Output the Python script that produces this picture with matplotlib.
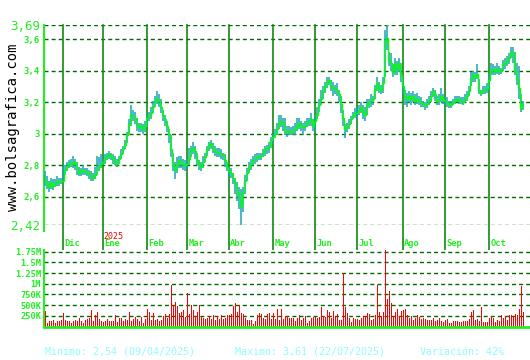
import matplotlib
matplotlib.use("Agg")
import matplotlib.pyplot as plt
import numpy as np

plt.rcParams['lines.scale_dashes'] = False

# ---------------- data ----------------
months = ["Dic", "Ene", "Feb", "Mar", "Abr", "May", "Jun", "Jul", "Ago", "Sep", "Oct"]

nov_close = [2.71, 2.68, 2.66, 2.69, 2.67, 2.68, 2.70, 2.69, 2.70]
nov_high = [2.76, 2.73, 2.70, 2.72, 2.71, 2.71, 2.73, 2.72, 2.72]
nov_low = [2.67, 2.65, 2.63, 2.65, 2.64, 2.66, 2.67, 2.67, 2.68]
nov_vol = [360, 80, 130, 120, 160, 80, 120, 130, 150]

dic_close = [2.70, 2.77, 2.79, 2.81, 2.82, 2.81, 2.82, 2.78, 2.75, 2.76, 2.77, 2.76, 2.75, 2.75, 2.73, 2.72, 2.74, 2.77, 2.79, 2.81]
dic_high = [2.79, 2.80, 2.82, 2.83, 2.84, 2.86, 2.84, 2.82, 2.79, 2.78, 2.80, 2.78, 2.78, 2.77, 2.76, 2.75, 2.79, 2.86, 2.85, 2.87]
dic_low = [2.69, 2.74, 2.76, 2.78, 2.79, 2.78, 2.77, 2.74, 2.73, 2.73, 2.74, 2.74, 2.73, 2.71, 2.70, 2.70, 2.71, 2.74, 2.76, 2.78]
dic_vol = [320, 160, 120, 120, 90, 140, 160, 120, 210, 120, 80, 150, 170, 200, 380, 130, 270, 330, 180, 120]

ene_close = [2.82, 2.84, 2.86, 2.87, 2.86, 2.84, 2.82, 2.81, 2.84, 2.87, 2.90, 2.93, 2.99, 3.06, 3.12, 3.12, 3.10, 3.06, 3.04, 3.05, 3.03, 3.05]
ene_high = [2.84, 2.87, 2.88, 2.89, 2.88, 2.87, 2.86, 2.84, 2.86, 2.90, 2.92, 2.96, 3.01, 3.09, 3.18, 3.15, 3.14, 3.10, 3.07, 3.07, 3.06, 3.08]
ene_low = [2.80, 2.81, 2.83, 2.84, 2.83, 2.81, 2.80, 2.79, 2.81, 2.84, 2.87, 2.90, 2.94, 3.00, 3.05, 3.08, 3.06, 3.02, 3.01, 3.01, 3.00, 3.01]
ene_vol = [110, 120, 170, 120, 120, 120, 280, 100, 190, 190, 140, 180, 160, 340, 140, 170, 230, 170, 120, 220, 90, 180]

feb_close = [3.10, 3.11, 3.13, 3.17, 3.21, 3.22, 3.21, 3.17, 3.12, 3.09, 3.05, 3.00, 2.90, 2.80, 2.77, 2.80, 2.83, 2.82, 2.81, 2.80]
feb_high = [3.12, 3.14, 3.17, 3.21, 3.24, 3.27, 3.25, 3.22, 3.15, 3.12, 3.08, 3.03, 2.99, 2.88, 2.82, 2.85, 2.86, 2.86, 2.84, 2.83]
feb_low = [3.05, 3.08, 3.09, 3.13, 3.17, 3.19, 3.17, 3.13, 3.08, 3.05, 3.01, 2.94, 2.85, 2.76, 2.71, 2.75, 2.78, 2.78, 2.77, 2.76]
feb_vol = [420, 330, 150, 310, 160, 180, 130, 160, 250, 300, 200, 300, 960, 500, 580, 480, 310, 350, 390, 220]

mar_close = [2.81, 2.84, 2.90, 2.91, 2.89, 2.83, 2.80, 2.79, 2.82, 2.85, 2.90, 2.93, 2.94, 2.91, 2.89, 2.88, 2.88, 2.87, 2.87, 2.83, 2.79]
mar_high = [2.84, 2.91, 2.92, 2.95, 2.92, 2.88, 2.83, 2.82, 2.86, 2.88, 2.92, 2.95, 2.96, 2.94, 2.92, 2.91, 2.91, 2.90, 2.88, 2.87, 2.82]
mar_low = [2.78, 2.80, 2.85, 2.87, 2.84, 2.80, 2.77, 2.76, 2.78, 2.82, 2.86, 2.89, 2.90, 2.88, 2.86, 2.85, 2.85, 2.84, 2.83, 2.79, 2.76]
mar_vol = [780, 300, 500, 380, 240, 350, 500, 230, 200, 180, 200, 250, 180, 280, 150, 250, 180, 260, 170, 190, 260]

abr_close = [2.76, 2.75, 2.72, 2.69, 2.63, 2.60, 2.54, 2.63, 2.70, 2.75, 2.79, 2.81, 2.83, 2.84, 2.85, 2.86, 2.86, 2.88, 2.90, 2.90, 2.92, 2.96]
abr_high = [2.79, 2.78, 2.75, 2.72, 2.69, 2.66, 2.65, 2.66, 2.74, 2.78, 2.82, 2.84, 2.86, 2.87, 2.88, 2.88, 2.88, 2.90, 2.92, 2.93, 2.95, 2.98]
abr_low = [2.73, 2.72, 2.68, 2.62, 2.57, 2.52, 2.42, 2.50, 2.62, 2.70, 2.75, 2.77, 2.80, 2.81, 2.82, 2.83, 2.83, 2.85, 2.86, 2.87, 2.88, 2.91]
abr_vol = [270, 300, 470, 550, 330, 500, 310, 300, 190, 150, 160, 160, 50, 120, 280, 310, 300, 210, 170, 300, 310, 170]

may_close = [2.98, 3.00, 3.03, 3.07, 3.08, 3.07, 3.02, 3.01, 3.02, 3.01, 3.02, 3.03, 3.05, 3.07, 3.05, 3.04, 3.05, 3.07, 3.08, 3.09, 3.05]
may_high = [3.00, 3.03, 3.07, 3.12, 3.12, 3.10, 3.10, 3.05, 3.05, 3.04, 3.05, 3.07, 3.10, 3.10, 3.08, 3.07, 3.08, 3.10, 3.10, 3.13, 3.09]
may_low = [2.94, 2.97, 2.99, 3.03, 3.04, 3.02, 2.99, 2.98, 2.99, 2.99, 2.99, 2.99, 3.02, 3.03, 3.02, 2.99, 3.02, 3.04, 3.05, 3.05, 3.02]
may_vol = [310, 170, 400, 160, 400, 180, 250, 250, 190, 190, 210, 130, 210, 260, 160, 200, 250, 80, 120, 210, 220]

jun_close = [3.08, 3.12, 3.18, 3.22, 3.27, 3.30, 3.33, 3.34, 3.30, 3.29, 3.29, 3.28, 3.25, 3.19, 3.10, 3.03, 3.04, 3.06, 3.09, 3.12, 3.13]
jun_high = [3.12, 3.17, 3.22, 3.28, 3.30, 3.33, 3.36, 3.36, 3.34, 3.33, 3.31, 3.32, 3.28, 3.24, 3.15, 3.06, 3.07, 3.09, 3.11, 3.14, 3.16]
jun_low = [3.02, 3.09, 3.14, 3.18, 3.22, 3.26, 3.29, 3.31, 3.27, 3.24, 3.25, 3.24, 3.20, 3.13, 3.05, 2.97, 3.01, 3.03, 3.06, 3.09, 3.10]
jun_vol = [220, 200, 230, 450, 250, 220, 380, 350, 200, 370, 250, 300, 150, 160, 1250, 450, 310, 200, 110, 190, 180]

jul_close = [3.13, 3.15, 3.17, 3.14, 3.12, 3.18, 3.20, 3.21, 3.22, 3.28, 3.32, 3.29, 3.28, 3.32, 3.59, 3.61, 3.47, 3.45, 3.39, 3.44, 3.41, 3.45, 3.37]
jul_high = [3.16, 3.18, 3.20, 3.18, 3.17, 3.22, 3.22, 3.25, 3.24, 3.31, 3.36, 3.33, 3.31, 3.36, 3.66, 3.69, 3.52, 3.51, 3.44, 3.48, 3.46, 3.48, 3.45]
jul_low = [3.10, 3.12, 3.13, 3.09, 3.08, 3.12, 3.16, 3.17, 3.18, 3.22, 3.27, 3.26, 3.25, 3.26, 3.36, 3.53, 3.43, 3.40, 3.36, 3.37, 3.37, 3.39, 3.33]
jul_vol = [170, 150, 200, 240, 240, 320, 300, 160, 170, 280, 960, 330, 250, 330, 1780, 640, 840, 560, 250, 330, 400, 250, 360]

ago_close = [3.30, 3.24, 3.22, 3.24, 3.22, 3.24, 3.21, 3.22, 3.21, 3.20, 3.19, 3.18, 3.19, 3.21, 3.24, 3.27, 3.25, 3.21, 3.21, 3.24, 3.22]
ago_high = [3.35, 3.28, 3.26, 3.27, 3.26, 3.27, 3.25, 3.26, 3.24, 3.23, 3.21, 3.20, 3.22, 3.24, 3.27, 3.29, 3.28, 3.24, 3.25, 3.29, 3.25]
ago_low = [3.25, 3.18, 3.17, 3.20, 3.18, 3.20, 3.18, 3.19, 3.18, 3.17, 3.17, 3.15, 3.16, 3.18, 3.20, 3.23, 3.21, 3.18, 3.18, 3.20, 3.19]
ago_vol = [380, 400, 270, 190, 240, 150, 200, 280, 220, 170, 190, 170, 150, 150, 160, 200, 120, 160, 200, 140, 100]

sep_close = [3.21, 3.20, 3.19, 3.18, 3.20, 3.21, 3.22, 3.21, 3.21, 3.20, 3.22, 3.24, 3.27, 3.35, 3.37, 3.36, 3.38, 3.28, 3.26, 3.27, 3.28, 3.29]
sep_high = [3.23, 3.23, 3.21, 3.21, 3.22, 3.24, 3.24, 3.24, 3.23, 3.23, 3.25, 3.27, 3.30, 3.39, 3.40, 3.39, 3.44, 3.35, 3.28, 3.30, 3.30, 3.32]
sep_low = [3.18, 3.17, 3.16, 3.16, 3.18, 3.19, 3.20, 3.19, 3.19, 3.18, 3.20, 3.21, 3.24, 3.30, 3.33, 3.33, 3.35, 3.25, 3.24, 3.25, 3.25, 3.26]
sep_vol = [150, 180, 80, 80, 140, 120, 130, 100, 100, 140, 120, 140, 180, 330, 380, 150, 180, 140, 450, 100, 100, 110]

oct_close = [3.34, 3.40, 3.41, 3.40, 3.41, 3.40, 3.40, 3.44, 3.45, 3.47, 3.48, 3.52, 3.51, 3.40, 3.35, 3.29, 3.16, 3.19]
oct_high = [3.38, 3.45, 3.44, 3.43, 3.45, 3.43, 3.42, 3.47, 3.48, 3.49, 3.51, 3.55, 3.55, 3.52, 3.45, 3.43, 3.25, 3.21]
oct_low = [3.27, 3.37, 3.37, 3.37, 3.38, 3.37, 3.38, 3.40, 3.41, 3.43, 3.44, 3.48, 3.45, 3.37, 3.31, 3.22, 3.14, 3.15]
oct_vol = [210, 220, 190, 100, 160, 130, 280, 200, 240, 160, 260, 280, 250, 290, 260, 400, 950, 330]

price_ticks = [3.6, 3.4, 3.2, 3.0, 2.8, 2.6]
price_tick_labels = ["3,6", "3,4", "3,2", "3", "2,8", "2,6"]
price_min, price_max = 2.42, 3.69
price_min_label, price_max_label = "2,42", "3,69"
vol_ticks = [250000, 500000, 750000, 1000000, 1250000, 1500000, 1750000]
vol_tick_labels = ["250K", "500K", "750K", "1M", "1.25M", "1.5M", "1.75M"]
year_label = "2025"
footer = ["Minimo: 2,54 (09/04/2025)", "Maximo: 3,61 (22/07/2025)", "Variación: 42%"]

# ---------------- assemble ----------------
closes_m = [nov_close, dic_close, ene_close, feb_close, mar_close, abr_close, may_close,
            jun_close, jul_close, ago_close, sep_close, oct_close]
highs_m = [nov_high, dic_high, ene_high, feb_high, mar_high, abr_high, may_high,
           jun_high, jul_high, ago_high, sep_high, oct_high]
lows_m = [nov_low, dic_low, ene_low, feb_low, mar_low, abr_low, may_low,
          jun_low, jul_low, ago_low, sep_low, oct_low]
vols_m = [nov_vol, dic_vol, ene_vol, feb_vol, mar_vol, abr_vol, may_vol,
          jun_vol, jul_vol, ago_vol, sep_vol, oct_vol]

close = np.concatenate(closes_m)
high = np.concatenate(highs_m)
low = np.concatenate(lows_m)
vol = np.concatenate(vols_m) * 1000.0
x = np.arange(len(close))
month_starts = np.cumsum([len(m) for m in closes_m])[:-1]

# ---------------- figure ----------------
W, H = 530, 360
fig = plt.figure(figsize=(W / 100, H / 100), dpi=100, facecolor="white")

def rect(l, t, r, b):
    return [l / W, 1 - b / H, (r - l) / W, (b - t) / H]

ax = fig.add_axes(rect(44, 25, 530, 225))
axv = fig.add_axes(rect(44, 250, 530, 326.5))

LIME = "#22ee22"
DARK = "#006a00"
VLINE = "#108a10"
TEAL = "#1aa3b5"
dash = (0, (2.9, 2.2))
mono = "DejaVu Sans Mono"

xlim = (-0.5, len(close) + 2.5)

# price panel
ax.set_xlim(*xlim)
ax.set_ylim(price_min, price_max)
for t in price_ticks + [price_min, price_max]:
    ax.axhline(t, color=DARK, lw=1.0, ls=dash, zorder=1)
ax.vlines(x, low, high, color=TEAL, lw=1.1, zorder=3)
ax.plot(x, close, color="#00ff00", lw=1.0, drawstyle="steps-mid", zorder=4)

pos_p = ax.get_position()
pos_v = axv.get_position()
ext = -(pos_p.y0 - pos_v.y0) / pos_p.height
for ms in month_starts:
    ax.axvline(ms, ymin=ext, ymax=1, color=VLINE, lw=1.2, clip_on=False, zorder=2)

for sp in ["top", "right", "bottom"]:
    ax.spines[sp].set_visible(False)
ax.spines["left"].set_color(LIME)
ax.spines["left"].set_linewidth(1.5)
ax.spines["left"].set_bounds(price_min - 0.04, price_max)
ax.set_xticks([])
ax.set_yticks(price_ticks + [price_max, price_min])
ax.set_yticklabels(price_tick_labels + [price_max_label, price_min_label])
ax.tick_params(axis="y", length=0, pad=3, colors=LIME)
for lab in ax.get_yticklabels():
    lab.set_fontfamily(mono)
    lab.set_fontweight("bold")
    lab.set_fontsize(6.5)
for lab in ax.get_yticklabels()[-2:]:
    lab.set_fontweight("normal")
    lab.set_fontsize(9)

# month labels
for ms, name in zip(month_starts, months):
    ax.text(ms + 0.6, -0.095, name, transform=ax.get_xaxis_transform(), color=LIME,
            fontsize=6.3, fontfamily=mono, fontweight="bold", ha="left", va="center",
            clip_on=False)
ax.text(month_starts[1] + 0.3, -0.057, year_label, transform=ax.get_xaxis_transform(),
        color="#ee0000", fontsize=6.0, fontfamily=mono, ha="left", va="center", clip_on=False)

# volume panel
axv.set_xlim(*xlim)
axv.set_ylim(0, 1790000)
for t in vol_ticks:
    axv.axhline(t, color=DARK, lw=1.0, ls=dash, zorder=1)
axv.vlines(x, 0, vol, color="#ff0000", lw=0.72, antialiased=False, zorder=3)
for sp in ["top", "right"]:
    axv.spines[sp].set_visible(False)
axv.spines["left"].set_color(LIME)
axv.spines["left"].set_linewidth(1.5)
axv.spines["bottom"].set_color(LIME)
axv.spines["bottom"].set_linewidth(2.0)
axv.spines["bottom"].set_zorder(5)
axv.set_xticks([])
axv.set_yticks(vol_ticks)
axv.set_yticklabels(vol_tick_labels)
axv.tick_params(axis="y", length=0, pad=2, colors=LIME)
for lab in axv.get_yticklabels():
    lab.set_fontfamily(mono)
    lab.set_fontweight("bold")
    lab.set_fontsize(6.2)

# watermark
fig.text(13 / W, 1 - 127 / H, "www.bolsagrafica.com", rotation=90, color="black",
         fontsize=10, fontfamily=mono, ha="center", va="center")

# footer
for xp, txt in zip([45, 235, 420], footer):
    fig.text(xp / W, 1 - 352 / H, txt, color="#8ffcff", fontsize=7.2, fontfamily=mono,
             ha="left", va="center")

fig.savefig("out.png", dpi=100, facecolor="white")
